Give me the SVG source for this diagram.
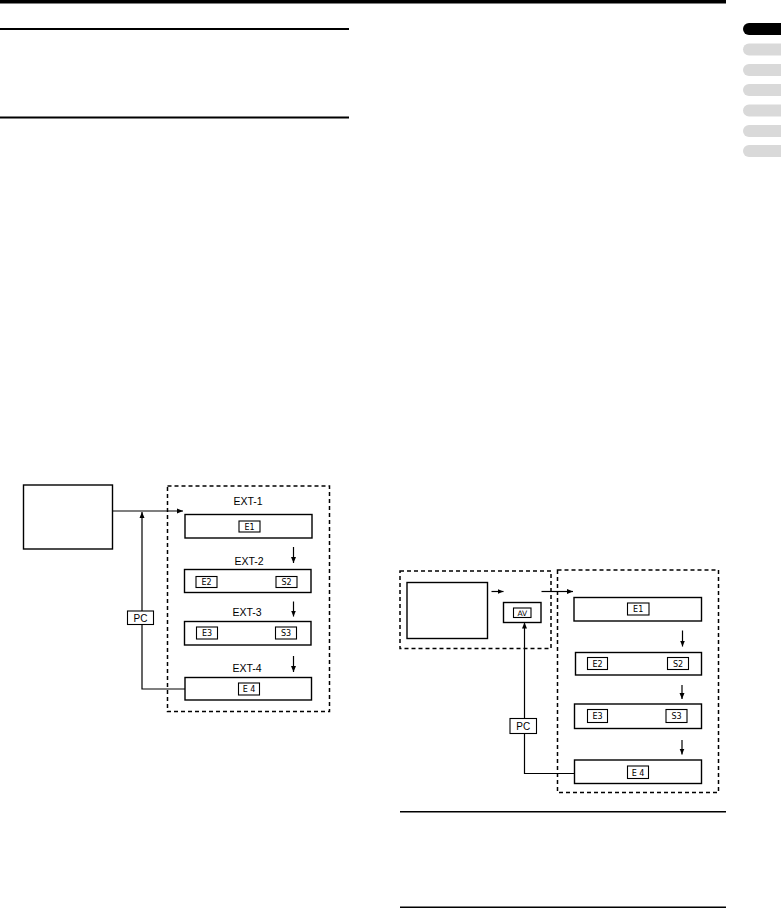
<svg xmlns="http://www.w3.org/2000/svg" width="781" height="911" viewBox="0 0 781 911">
<defs>
<style>
.box{fill:#fff;stroke:#000;stroke-width:1.4}
.lbl{fill:#fff;stroke:#000;stroke-width:1.1}
.dash{fill:none;stroke:#000;stroke-width:1.5;stroke-dasharray:4 3}
.ln{fill:none;stroke:#000;stroke-width:1.2}
.t{font-family:"Liberation Sans",Arial,sans-serif;font-size:10.5px;fill:#000;text-anchor:middle}
.s{font-family:"DejaVu Sans",sans-serif;font-size:8px;fill:#000;text-anchor:middle}
.tab{fill:#d9d9d9}
</style>
<marker id="ah" viewBox="0 0 6 6" refX="6" refY="3" markerWidth="6" markerHeight="6" markerUnits="userSpaceOnUse" orient="auto">
<path d="M0,0.5 L6,3 L0,5.5 Z" fill="#000"/>
</marker>
</defs>
<rect width="781" height="911" fill="#fff"/>
<!-- page rules -->
<rect x="0" y="0" width="726" height="3.5" fill="#000"/>
<rect x="0" y="28" width="349" height="2" fill="#000"/>
<rect x="0" y="116.5" width="349" height="2" fill="#000"/>
<rect x="400" y="811" width="326" height="1.5" fill="#000"/>
<rect x="400" y="906.5" width="326" height="1.5" fill="#000"/>
<!-- tabs -->
<g id="tabs">
<path d="M749,23 H781 V35 H749 A6,6 0 0 1 749,23 Z" fill="#000"/>
<path d="M749,43.5 H781 V55.5 H749 A6,6 0 0 1 749,43.5 Z" class="tab"/>
<path d="M749,64 H781 V76 H749 A6,6 0 0 1 749,64 Z" class="tab"/>
<path d="M749,84 H781 V96 H749 A6,6 0 0 1 749,84 Z" class="tab"/>
<path d="M749,104.5 H781 V116.5 H749 A6,6 0 0 1 749,104.5 Z" class="tab"/>
<path d="M749,125 H781 V137 H749 A6,6 0 0 1 749,125 Z" class="tab"/>
<path d="M749,145 H781 V157 H749 A6,6 0 0 1 749,145 Z" class="tab"/>
</g>
<!-- left diagram -->
<g id="left-group"><rect class="dash" x="167.5" y="486" width="162" height="225.5"/></g>
<g id="left-tv"><rect class="box" x="23.5" y="485" width="89" height="64"/></g>
<g id="ext1">
<text class="t" x="248" y="505">EXT-1</text>
<rect class="box" x="185" y="514.5" width="127" height="23.5"/>
<rect class="lbl" x="239" y="521" width="21" height="11"/><text class="s" x="249.5" y="529.5">E1</text>
</g>
<g id="ext2">
<text class="t" x="249" y="565">EXT-2</text>
<rect class="box" x="184.5" y="569.5" width="126.5" height="23"/>
<rect class="lbl" x="196" y="576.5" width="21" height="11"/><text class="s" x="206.5" y="585">E2</text>
<rect class="lbl" x="276" y="576.5" width="21" height="11"/><text class="s" x="286.5" y="585">S2</text>
</g>
<g id="ext3">
<text class="t" x="247" y="616">EXT-3</text>
<rect class="box" x="184.5" y="621.5" width="126.5" height="23.5"/>
<rect class="lbl" x="196.5" y="627" width="21" height="12"/><text class="s" x="207" y="636">E3</text>
<rect class="lbl" x="275.5" y="627" width="21" height="12"/><text class="s" x="286" y="636">S3</text>
</g>
<g id="ext4">
<text class="t" x="247" y="672">EXT-4</text>
<rect class="box" x="185" y="677.5" width="126.5" height="22.5"/>
<rect class="lbl" x="238.5" y="683" width="21" height="12"/><text class="s" x="249" y="692">E 4</text>
</g>
<g id="left-pc"><rect class="lbl" x="127.5" y="611" width="26" height="13.5"/><text class="t" x="140.5" y="621.5" style="font-size:10px">PC</text></g>
<g id="left-connectors">
<line class="ln" x1="113" y1="511" x2="183" y2="511" marker-end="url(#ah)"/>
<line class="ln" x1="142" y1="611" x2="142" y2="512" marker-end="url(#ah)"/>
<polyline class="ln" points="142,624.5 142,689 185,689"/>
<line class="ln" x1="293.5" y1="547" x2="293.5" y2="563" marker-end="url(#ah)"/>
<line class="ln" x1="293.5" y1="601.5" x2="293.5" y2="616.5" marker-end="url(#ah)"/>
<line class="ln" x1="293.5" y1="656" x2="293.5" y2="672" marker-end="url(#ah)"/>
</g>
<!-- right diagram -->
<g id="right-src-group"><rect class="dash" x="400" y="571" width="151" height="77.5"/></g>
<g id="right-ext-group"><rect class="dash" x="557.5" y="570" width="161" height="222.5"/></g>
<g id="right-tv"><rect class="box" x="407" y="582.5" width="80.5" height="56"/></g>
<g id="right-av"><rect class="box" x="503.5" y="602.5" width="37.5" height="20"/><rect class="lbl" x="513.5" y="608" width="17.5" height="9.5"/><text class="s" x="522.3" y="615.8" style="font-size:7.5px">AV</text></g>
<g id="r-e1"><rect class="box" x="574" y="597.5" width="127.5" height="23.5"/><rect class="lbl" x="627.5" y="603" width="21.5" height="12"/><text class="s" x="638.2" y="612">E1</text></g>
<g id="r-e2"><rect class="box" x="575.5" y="652.5" width="126" height="22.5"/><rect class="lbl" x="587.5" y="657.5" width="20" height="12"/><text class="s" x="597.5" y="666.5">E2</text><rect class="lbl" x="667.5" y="657.5" width="21" height="12"/><text class="s" x="678" y="666.5">S2</text></g>
<g id="r-e3"><rect class="box" x="574.5" y="704" width="127" height="24.5"/><rect class="lbl" x="587.5" y="709.5" width="20" height="13"/><text class="s" x="597.5" y="719">E3</text><rect class="lbl" x="666" y="709.5" width="21" height="13"/><text class="s" x="676.5" y="719">S3</text></g>
<g id="r-e4"><rect class="box" x="574.5" y="760" width="127" height="23.5"/><rect class="lbl" x="627.5" y="766" width="21" height="12.5"/><text class="s" x="638" y="775.5">E 4</text></g>
<g id="right-pc"><rect class="lbl" x="510" y="718.5" width="26.5" height="15"/><text class="t" x="523.3" y="729.5" style="font-size:10px">PC</text></g>
<g id="right-connectors">
<line class="ln" x1="491.5" y1="591.5" x2="503.5" y2="591.5" marker-end="url(#ah)"/>
<line class="ln" x1="541.5" y1="591.5" x2="573" y2="591.5" marker-end="url(#ah)"/>
<line class="ln" x1="524.5" y1="718.5" x2="524.5" y2="622.5" marker-end="url(#ah)"/>
<polyline class="ln" points="524.5,733.5 524.5,773.5 574.5,773.5"/>
<line class="ln" x1="682.5" y1="630.5" x2="682.5" y2="646.5" marker-end="url(#ah)"/>
<line class="ln" x1="682" y1="685" x2="682" y2="699" marker-end="url(#ah)"/>
<line class="ln" x1="682" y1="740" x2="682" y2="754.5" marker-end="url(#ah)"/>
</g>
</svg>
